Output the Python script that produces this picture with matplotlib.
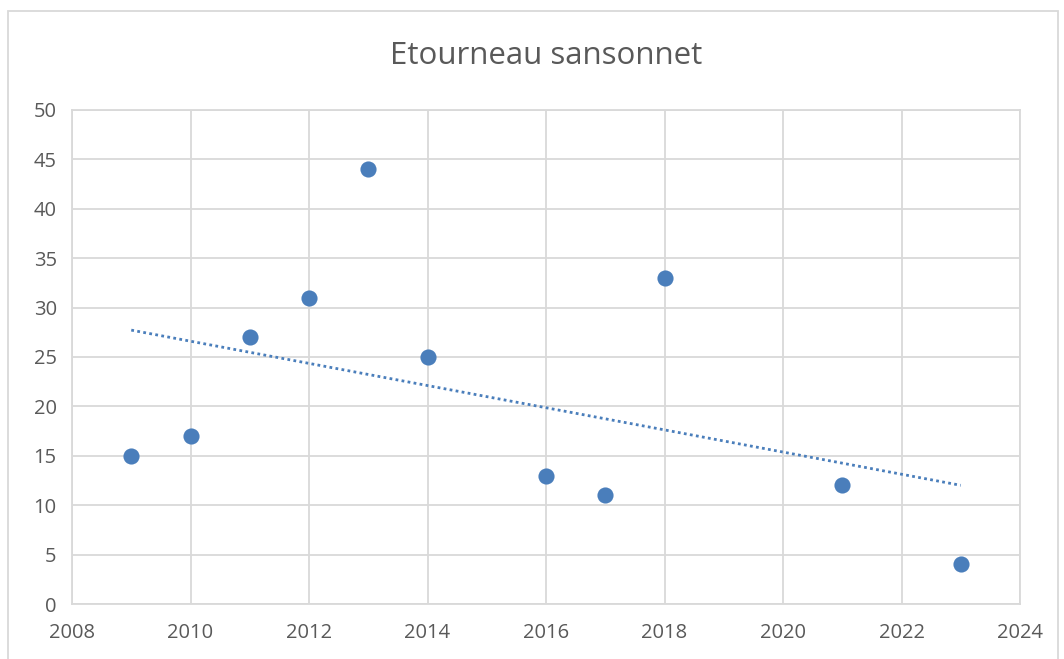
import numpy as np
import matplotlib.pyplot as plt
from matplotlib.patches import Rectangle

# data
years = [2009, 2010, 2011, 2012, 2013, 2014, 2016, 2017, 2018, 2021, 2023]
counts = [15, 17, 27, 31, 44, 25, 13, 11, 33, 12, 4]
title = "Etourneau sansonnet"

W, H = 1064, 659
fig = plt.figure(figsize=(W / 100, H / 100), dpi=100)
plt.rcParams['font.family'] = ['Open Sans', 'DejaVu Sans']
txt_color = '#595959'
grid_color = '#d9d9d9'

# outer chart border (cropped at bottom)
fig.patches.append(Rectangle((8 / W, -0.05), (1058 - 8) / W, 1 - 11 / H + 0.05,
                             transform=fig.transFigure, fill=False,
                             edgecolor=grid_color, linewidth=1.3))

ax = fig.add_axes([72 / W, 1 - 604 / H, (1020 - 72) / W, (604 - 110) / H])

ax.scatter(years, counts, s=135, color='#4a7ebb', zorder=3, linewidths=0)

# linear trend line
x = np.array(years, dtype=float)
y = np.array(counts, dtype=float)
slope, icpt = np.polyfit(x, y, 1)
xt = np.array([x.min(), x.max()])
ax.plot(xt, slope * xt + icpt, linestyle=(0, (1, 1.2)), color='#4a7ebb',
        linewidth=2.0, zorder=2)

ax.set_xlim(2008, 2024)
ax.set_ylim(0, 50)
ax.set_xticks(range(2008, 2025, 2))
ax.set_yticks(range(0, 51, 5))
ax.grid(True, color=grid_color, linewidth=1.3)
ax.set_axisbelow(True)
for s in ax.spines.values():
    s.set_color(grid_color)
    s.set_linewidth(1.3)
ax.tick_params(length=0, labelsize=14.5, colors=txt_color, pad=11)
ax.tick_params(axis='x', pad=14)

fig.text((72 + 1020) / 2 / W, 1 - 56 / H, title, ha='center', va='center',
         fontsize=22.5, color=txt_color)

fig.savefig('out.png', dpi=100)
